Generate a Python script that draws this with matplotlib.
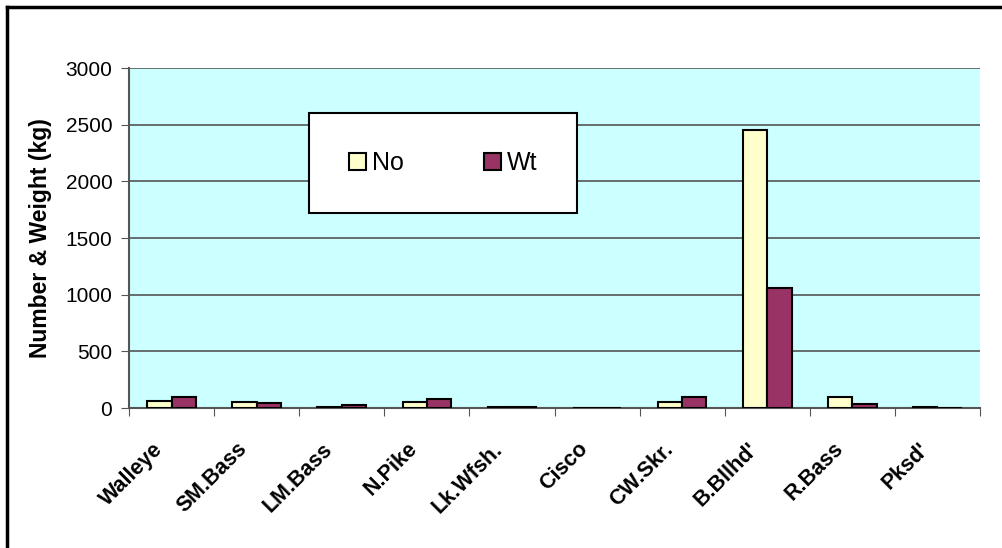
import numpy as np
import matplotlib
matplotlib.use("Agg")
import matplotlib.pyplot as plt
from matplotlib.lines import Line2D
from matplotlib.patches import Rectangle

plt.rcParams['font.family'] = ['Liberation Sans', 'DejaVu Sans']

# fish species and catch values
species = ["Walleye", "SM.Bass", "LM.Bass", "N.Pike", "Lk.Wfsh.", "Cisco",
           "CW.Skr.", "B.Bllhd'", "R.Bass", "Pksd'"]
number = [65, 56, 12, 56, 10, 0, 56, 2454, 94, 10]
weight = [94, 47, 23, 82, 10, 0, 94, 1059, 32, 0]

W, H = 1003, 548
fig = plt.figure(figsize=(W / 100, H / 100), dpi=100)
ax = fig.add_axes([129 / W, 1 - 408 / H, (980 - 129) / W, (408 - 68) / H])
ax.set_facecolor("#CCFFFF")

x = np.arange(len(species))
w = 0.285
ax.bar(x - w / 2, number, w, color="#FFFFCC", edgecolor="black", linewidth=1.5, label="No", zorder=3)
ax.bar(x + w / 2, weight, w, color="#993366", edgecolor="black", linewidth=1.5, label="Wt", zorder=3)

ax.set_xlim(-0.5, len(species) - 0.5)
ax.set_ylim(0, 3000)
ax.set_yticks(range(0, 3001, 500))
ax.yaxis.grid(True, color="#555555", linewidth=1.2, zorder=0)
ax.set_axisbelow(True)

# category boundaries get the tick marks, labels sit a bit left of the centres
ax.set_xticks(np.arange(len(species) + 1) - 0.5)
ax.set_xticklabels([])
ax.set_xticks(x - 0.23, minor=True)
ax.set_xticklabels(species, minor=True, rotation=45, ha="right", va="top",
                   rotation_mode="anchor", fontsize=15.5, fontweight="bold")
ax.tick_params(axis="x", which="minor", length=0, pad=22)
ax.tick_params(axis="x", which="major", length=6, direction="out", color="#555555")
ax.tick_params(axis="y", length=6, direction="out", color="#555555", labelsize=15, pad=6)

for s in ["top", "right"]:
    ax.spines[s].set_visible(False)
for s in ["left", "bottom"]:
    ax.spines[s].set_color("#555555")
    ax.spines[s].set_linewidth(1.5)

ax.set_ylabel("Number & Weight (kg)", fontsize=16.5, fontweight="bold", labelpad=10)

# legend box drawn by hand, legend entries centred in it
bx0, by0, bx1, by1 = 309, 113, 577, 213
ax.add_patch(Rectangle(((bx0 - 129) / 851, 1 - (by1 - 68) / 340),
                       (bx1 - bx0) / 851, (by1 - by0) / 340, transform=ax.transAxes,
                       facecolor="white", edgecolor="black", linewidth=1.5, zorder=5))
leg = ax.legend(loc="center", bbox_to_anchor=(((bx0 + bx1) / 2 - 129) / 851,
                                              1 - ((by0 + by1) / 2 - 68) / 340),
                ncol=2, frameon=False, fontsize=18,
                handlelength=0.68, handleheight=0.68, handletextpad=0.25,
                columnspacing=3.2)
leg.set_zorder(6)

# outer frame lines (top and left visible)
fig.add_artist(Line2D([7 / W, 7 / W], [0, 1 - 7 / H], color="black", linewidth=2.5))
fig.add_artist(Line2D([7 / W, 1], [1 - 7 / H, 1 - 7 / H], color="black", linewidth=2.5))

fig.savefig("out.png", dpi=100)
